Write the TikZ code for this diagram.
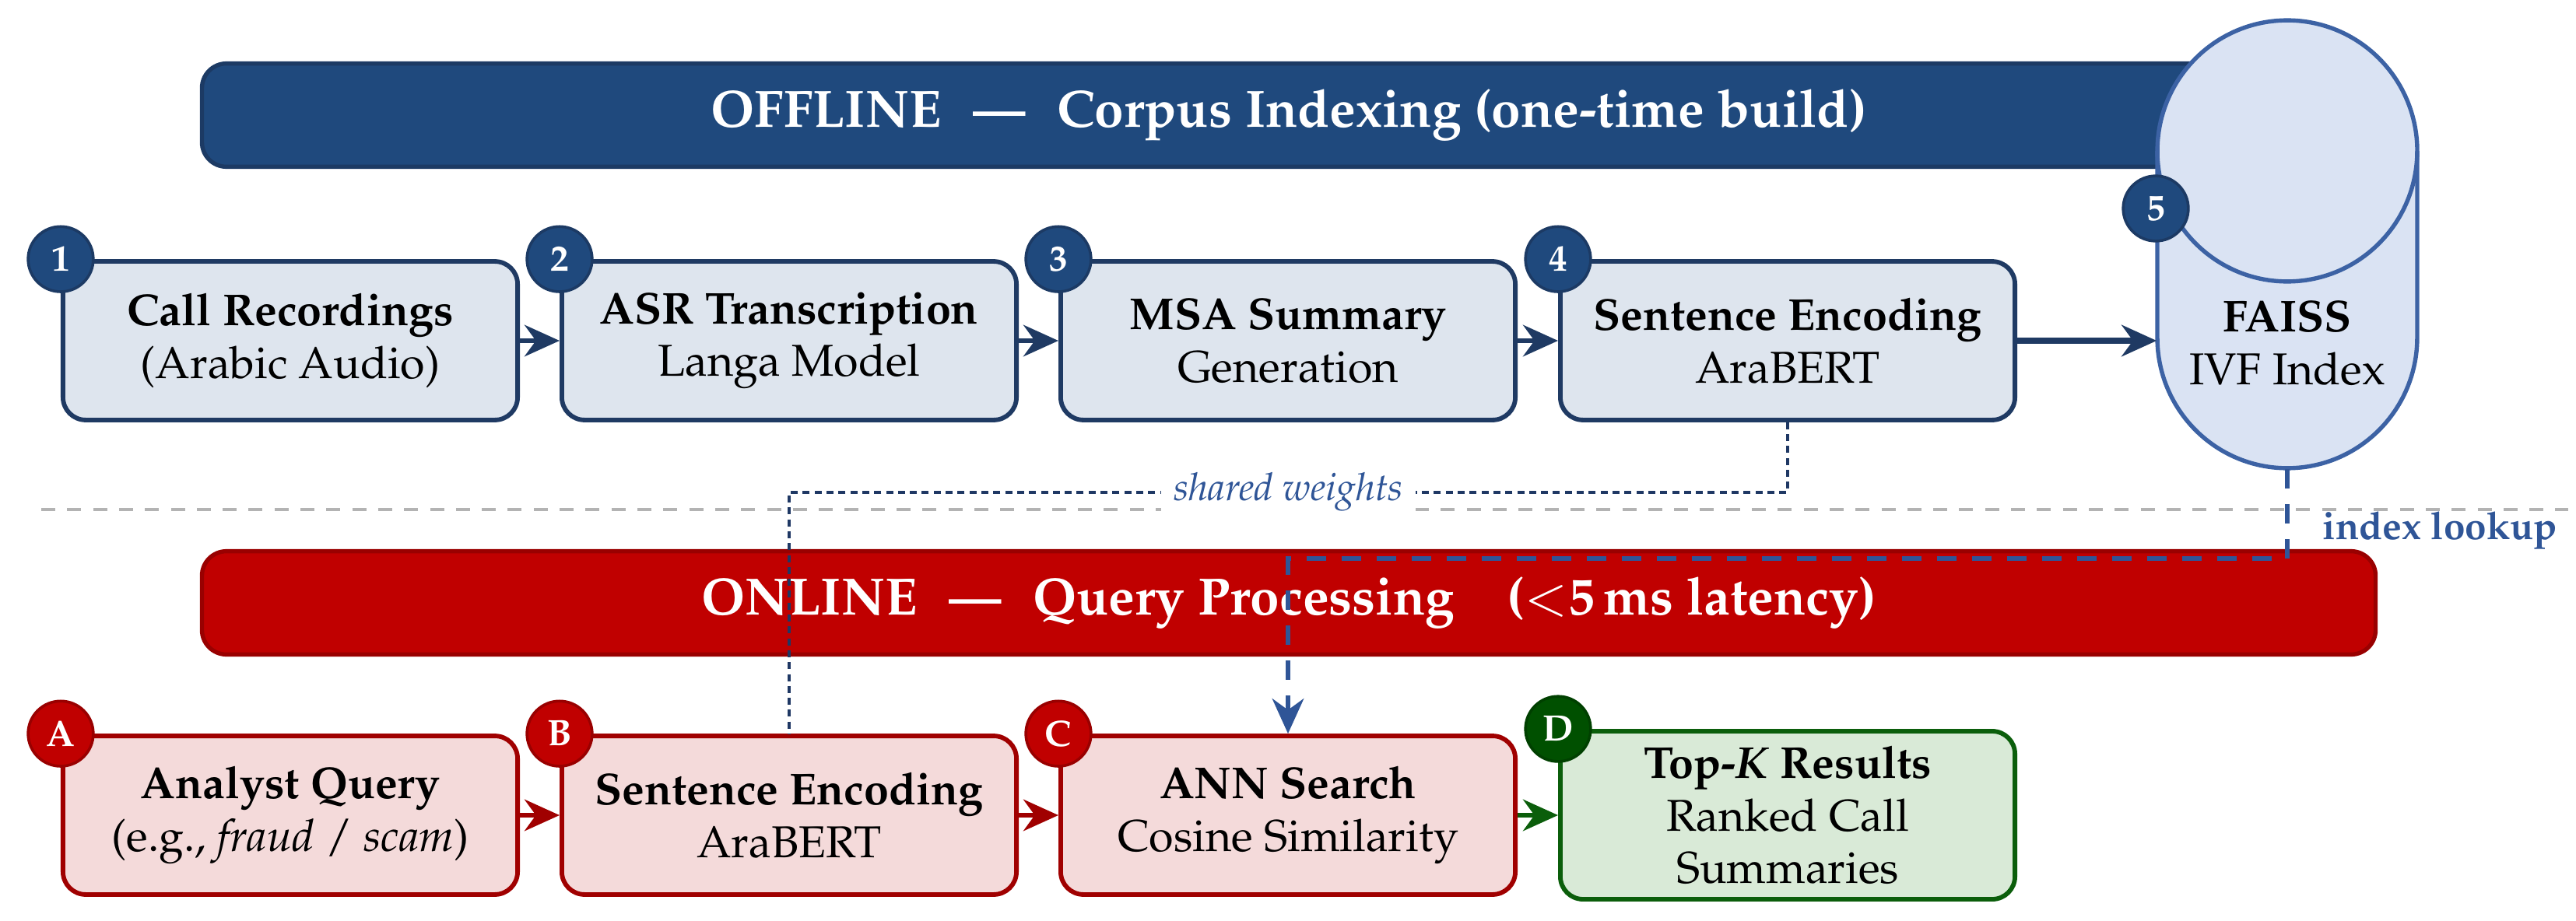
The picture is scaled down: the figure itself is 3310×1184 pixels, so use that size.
\documentclass[tikz,border=0pt]{standalone}
\usepackage[T1]{fontenc}
\usepackage{mathpazo}
\usetikzlibrary{arrows.meta,calc}
\definecolor{offfill}{HTML}{1F497D}
\definecolor{offborder}{HTML}{1C3A64}
\definecolor{offbox}{HTML}{DEE5EE}
\definecolor{offstroke}{HTML}{1F3A63}
\definecolor{cylfill}{HTML}{DAE3F3}
\definecolor{cylstroke}{HTML}{3C62A4}
\definecolor{onfill}{HTML}{C00000}
\definecolor{onborder}{HTML}{990000}
\definecolor{onbox}{HTML}{F4DADA}
\definecolor{onstroke}{HTML}{A00000}
\definecolor{resbox}{HTML}{D9EAD7}
\definecolor{resstroke}{HTML}{0B5E0B}
\definecolor{resfill}{HTML}{005000}
\definecolor{linkblue}{HTML}{2F5597}
\definecolor{sharedblue}{HTML}{1F3864}
\definecolor{sepgrey}{HTML}{B3B3B3}
\begin{document}
\begin{tikzpicture}[x=0.2222pt,y=-0.2222pt,
  every node/.style={inner sep=2pt},
  boxfont/.style={font=\fontsize{12.75}{15}\selectfont},
  stage/.style={boxfont, rounded corners=6.5pt, line width=1.3pt, minimum width=129.8pt, align=center},
  offstage/.style={stage, draw=offstroke, fill=offbox, minimum height=45.3pt},
  onstage/.style={stage, draw=onstroke, fill=onbox, minimum height=45.3pt},
  resstage/.style={stage, draw=resstroke, fill=resbox, minimum height=48pt},
  banner/.style={rounded corners=7pt, line width=1.2pt, minimum width=620.6pt, minimum height=29.5pt, text=white, font=\fontsize{15}{18}\selectfont\bfseries},
  badge/.style={circle, minimum size=18.6pt, inner sep=0pt, line width=0.8pt, text=white, font=\fontsize{10.5}{12}\selectfont\bfseries},
  offbadge/.style={badge, fill=offfill, draw=offborder},
  onbadge/.style={badge, fill=onfill, draw=onborder},
  resbadge/.style={badge, fill=resfill, draw=resfill!80!black},
  flowarrow/.style={line width=1.3pt, -{Stealth[length=10pt,width=9pt]}},
  lookup/.style={linkblue, line width=1.3pt, dash pattern=on 5.5pt off 4.5pt, -{Stealth[length=10pt,width=9pt]}},
  shared/.style={sharedblue, line width=1.05pt, dash pattern=on 2pt off 1.4pt},
  linklabel/.style={text=linkblue, font=\fontsize{11}{13}\selectfont}
]
\useasboundingbox (0,0) rectangle (3310,1184);

% separator
\coordinate (sepL) at (53,655);
\coordinate (sepR) at (3300,655);
\draw[sepgrey, line width=1.1pt, dash pattern=on 4pt off 3.4pt] (sepL) -- (sepR);

% banners
\node[banner, fill=offfill, draw=offborder] (offbanner) at (1656,148)
  {OFFLINE\hspace{0.6em}---\hspace{0.6em}Corpus Indexing (one-time build)};
\node[banner, fill=onfill, draw=onborder] (onbanner) at (1656,775)
  {ONLINE\hspace{0.6em}---\hspace{0.6em}Query Processing\quad($<$5\,ms latency)};

% offline stages
\node[offstage] (off1) at (373,438) {\textbf{Call Recordings}\\(Arabic Audio)};
\node[offstage] (off2) at (1014,438) {\textbf{ASR Transcription}\\Langa Model};
\node[offstage] (off3) at (1655,438) {\textbf{MSA Summary}\\Generation};
\node[offstage] (off4) at (2297,438) {\textbf{Sentence Encoding}\\AraBERT};

% online stages
\node[onstage] (on1) at (373,1048) {\textbf{Analyst Query}\\(e.g., \textit{fraud} / \textit{scam})};
\node[onstage] (on2) at (1014,1048) {\textbf{Sentence Encoding}\\AraBERT};
\node[onstage] (on3) at (1655,1048) {\textbf{ANN Search}\\Cosine Similarity};
\node[resstage] (on4) at (2297,1048) {\textbf{Top-\textit{K} Results}\\Ranked Call\\Summaries};

% flow arrows
\draw[flowarrow, offstroke] (off1.east) -- (off2.west);
\draw[flowarrow, offstroke] (off2.east) -- (off3.west);
\draw[flowarrow, offstroke] (off3.east) -- (off4.west);
\draw[flowarrow, onstroke] (on1.east) -- (on2.west);
\draw[flowarrow, onstroke] (on2.east) -- (on3.west);
\draw[flowarrow, resstroke] (on3.east) -- (on4.west);

% FAISS cylinder
\draw[cylstroke, fill=cylfill, line width=1.2pt]
  (2772,194) -- (2772,434)
  arc[start angle=180, end angle=360, x radius=37.1pt, y radius=37.3pt]
  -- (3106,194)
  arc[start angle=0, end angle=180, x radius=37.1pt, y radius=37.3pt] -- cycle;
\draw[cylstroke, line width=1.2pt] (2772,194)
  arc[start angle=180, end angle=360, x radius=37.1pt, y radius=37.3pt];
\node[minimum width=74.2pt, minimum height=128pt, inner sep=0pt] (faiss) at (2939,314) {};
\node[boxfont, align=center] (faisstxt) at (2939,441) {\textbf{FAISS}\\IVF Index};
\draw[flowarrow, offstroke, line width=1.6pt] (off4.east) -- (off4.east -| faiss.west);

% badges
\node[offbadge] (b1) at (off1.north west) {1};
\node[offbadge] (b2) at (off2.north west) {2};
\node[offbadge] (b3) at (off3.north west) {3};
\node[offbadge] (b4) at (off4.north west) {4};
\node[offbadge] (b5) at (2770,268) {5};
\node[onbadge] (bA) at (on1.north west) {A};
\node[onbadge] (bB) at (on2.north west) {B};
\node[onbadge] (bC) at (on3.north west) {C};
\node[resbadge] (bD) at (on4.north west) {D};

% shared weights
\draw[shared] (off4.south) -- ++(0,90) coordinate (swc)
  -- (swc -| on2.north) node[midway, fill=white, inner sep=3.5pt, linklabel, font=\fontsize{11}{13}\selectfont\itshape] (swlabel) {shared weights}
  -- (on2.north);

% index lookup
\draw[lookup] (faiss.south) -- ++(0,115) coordinate (ilc) -- (ilc -| on3.north) -- (on3.north);
\node[linklabel, font=\fontsize{11}{13}\selectfont\bfseries, anchor=west] (illabel) at (2975,682) {index lookup};
\end{tikzpicture}
\end{document}
